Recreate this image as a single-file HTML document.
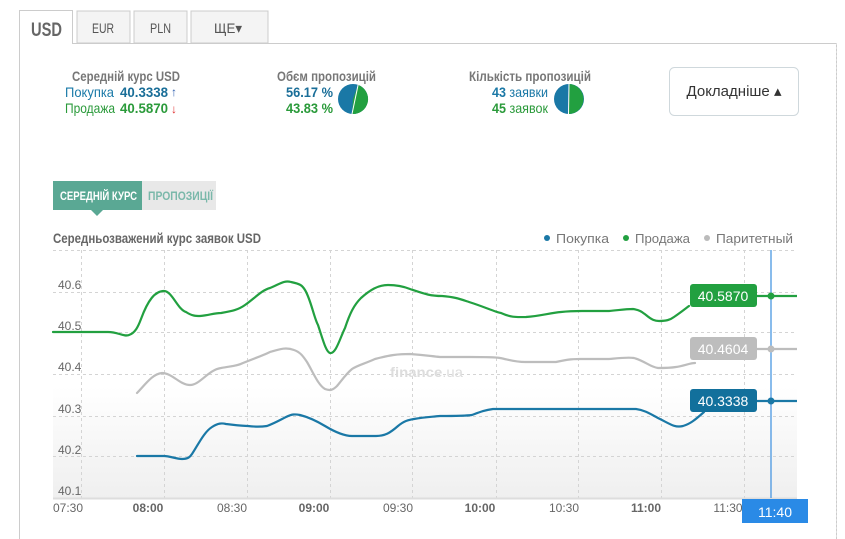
<!DOCTYPE html>
<html><head><meta charset="utf-8"><style>
html,body{margin:0;padding:0;background:#fff;}
body{width:845px;height:539px;overflow:hidden;position:relative;font-family:"Liberation Sans",sans-serif;}
svg{position:absolute;left:0;top:0;}
</style></head><body>
<svg width="845" height="539" viewBox="0 0 845 539" xmlns="http://www.w3.org/2000/svg" font-family="Liberation Sans, sans-serif">
<defs>
<linearGradient id="bg" x1="0" y1="0" x2="0" y2="1">
<stop offset="0" stop-color="#fff"/><stop offset="0.55" stop-color="#fff"/><stop offset="1" stop-color="#efefef"/>
</linearGradient>
</defs>
<rect x="77" y="11" width="53" height="32" fill="#f4f4f4" stroke="#ccc"/>
<rect x="134" y="11" width="53" height="32" fill="#f4f4f4" stroke="#ccc"/>
<rect x="191" y="11" width="77" height="32" fill="#f4f4f4" stroke="#ccc"/>
<path d="M19.5 539 V10.5 H72.5 V43.5 H836.5 V539" fill="none" stroke="#ccc"/>
<rect x="20" y="11" width="52" height="34" fill="#fff"/>
<line x1="836.5" y1="43" x2="836.5" y2="539" stroke="#ddd" stroke-dasharray="2,2"/>
<g lengthAdjust="spacingAndGlyphs">
<text x="31" y="36" font-size="19" font-weight="bold" fill="#666" textLength="31" lengthAdjust="spacingAndGlyphs">USD</text>
<text x="92" y="33" font-size="14" fill="#555" textLength="22" lengthAdjust="spacingAndGlyphs">EUR</text>
<text x="150" y="33" font-size="14" fill="#555" textLength="21" lengthAdjust="spacingAndGlyphs">PLN</text>
<text x="214" y="33" font-size="14" fill="#555" textLength="28" lengthAdjust="spacingAndGlyphs">ЩЕ▾</text>

<text x="72" y="81" font-size="14" font-weight="bold" fill="#777" textLength="108" lengthAdjust="spacingAndGlyphs">Середній курс USD</text>
<text x="65" y="97" font-size="14" fill="#1a7aa8" textLength="49" lengthAdjust="spacingAndGlyphs">Покупка</text>
<text x="120" y="97" font-size="14" font-weight="bold" fill="#1a6e98" textLength="48" lengthAdjust="spacingAndGlyphs">40.3338</text>
<text x="171" y="96" font-size="12" fill="#3060b0">↑</text>
<text x="65" y="113" font-size="14" fill="#2a9a3a" textLength="50" lengthAdjust="spacingAndGlyphs">Продажа</text>
<text x="120" y="113" font-size="14" font-weight="bold" fill="#2a9a3a" textLength="48" lengthAdjust="spacingAndGlyphs">40.5870</text>
<text x="171" y="113" font-size="12" fill="#e03030">↓</text>

<text x="277" y="81" font-size="14" font-weight="bold" fill="#777" textLength="99" lengthAdjust="spacingAndGlyphs">Обєм пропозицій</text>
<text x="286" y="97" font-size="14" font-weight="bold" fill="#1a6e98" textLength="47" lengthAdjust="spacingAndGlyphs">56.17 %</text>
<text x="286" y="113" font-size="14" font-weight="bold" fill="#2a9a3a" textLength="47" lengthAdjust="spacingAndGlyphs">43.83 %</text>
</g>
<circle cx="353" cy="99" r="15" fill="#1a78a6"/>
<path d="M353 99 L358.1 84.9 A15 15 0 0 1 352 114 Z" fill="#22a040"/>
<path d="M358.1 84.9 L352 114" stroke="#fff" stroke-width="1"/>

<text x="469" y="81" font-size="14" font-weight="bold" fill="#777" textLength="122" lengthAdjust="spacingAndGlyphs">Кількість пропозицій</text>
<text x="492" y="97" font-size="14" fill="#1a78a6" textLength="56" lengthAdjust="spacingAndGlyphs"><tspan font-weight="bold">43</tspan> заявки</text>
<text x="492" y="113" font-size="14" fill="#2a9a3a" textLength="56" lengthAdjust="spacingAndGlyphs"><tspan font-weight="bold">45</tspan> заявок</text>
<circle cx="569" cy="99" r="15" fill="#1a78a6"/>
<path d="M569 99 L569 84 A15 15 0 0 1 568 114 Z" fill="#22a040"/>
<line x1="569" y1="84" x2="568.5" y2="114" stroke="#fff" stroke-width="1"/>

<rect x="669.5" y="67.5" width="129" height="48" rx="5" fill="#fff" stroke="#cfd8dc"/>
<text x="734" y="96" font-size="15" fill="#333" text-anchor="middle">Докладніше ▴</text>

<rect x="53" y="181" width="89" height="29" fill="#5aa894"/>
<path d="M91 210 L97 216 L103 210 Z" fill="#5aa894"/>
<rect x="142" y="181" width="74" height="29" fill="#e8e8e8"/>
<text x="60" y="200" font-size="12" font-weight="bold" fill="#fff" textLength="77" lengthAdjust="spacingAndGlyphs">СЕРЕДНІЙ КУРС</text>
<text x="148" y="200" font-size="12" font-weight="bold" fill="#7ab8aa" textLength="65" lengthAdjust="spacingAndGlyphs">ПРОПОЗИЦІЇ</text>

<text x="53" y="243" font-size="14" font-weight="bold" fill="#666" textLength="208" lengthAdjust="spacingAndGlyphs">Середньозважений курс заявок USD</text>
<circle cx="547" cy="238" r="3" fill="#1a78a6"/><text x="556" y="243" font-size="13" fill="#777" textLength="53" lengthAdjust="spacingAndGlyphs">Покупка</text>
<circle cx="626" cy="238" r="3" fill="#22a040"/><text x="635" y="243" font-size="13" fill="#777" textLength="55" lengthAdjust="spacingAndGlyphs">Продажа</text>
<circle cx="707" cy="238" r="3" fill="#bbb"/><text x="716" y="243" font-size="13" fill="#777" textLength="77" lengthAdjust="spacingAndGlyphs">Паритетный</text>

<rect x="53" y="250" width="744" height="248" fill="url(#bg)"/>
<g stroke="#d4d4d4" stroke-dasharray="3,3" stroke-width="1">
<line x1="53" y1="250.5" x2="797" y2="250.5"/>
<line x1="53" y1="292.5" x2="797" y2="292.5"/>
<line x1="53" y1="332.5" x2="797" y2="332.5"/>
<line x1="53" y1="374.5" x2="797" y2="374.5"/>
<line x1="53" y1="416.5" x2="797" y2="416.5"/>
<line x1="53" y1="456.5" x2="797" y2="456.5"/>
<line x1="81.5" y1="250" x2="81.5" y2="498"/>
<line x1="164.5" y1="250" x2="164.5" y2="498"/>
<line x1="247.5" y1="250" x2="247.5" y2="498"/>
<line x1="330.5" y1="250" x2="330.5" y2="498"/>
<line x1="412.5" y1="250" x2="412.5" y2="498"/>
<line x1="496.5" y1="250" x2="496.5" y2="498"/>
<line x1="578.5" y1="250" x2="578.5" y2="498"/>
<line x1="661.5" y1="250" x2="661.5" y2="498"/>
<line x1="744.5" y1="250" x2="744.5" y2="498"/>
</g>
<line x1="53" y1="498.5" x2="797" y2="498.5" stroke="#ddd" stroke-width="2"/>
<g font-size="12" fill="#666">
<text x="58" y="289">40.6</text><text x="58" y="330">40.5</text><text x="58" y="371">40.4</text>
<text x="58" y="413">40.3</text><text x="58" y="454">40.2</text><text x="58" y="495">40.1</text>
</g>
<g font-size="12" fill="#666" text-anchor="middle">
<text x="68" y="512">07:30</text><text x="148" y="512" font-weight="bold">08:00</text>
<text x="232" y="512">08:30</text><text x="314" y="512" font-weight="bold">09:00</text>
<text x="398" y="512">09:30</text><text x="480" y="512" font-weight="bold">10:00</text>
<text x="564" y="512">10:30</text><text x="646" y="512" font-weight="bold">11:00</text>
<text x="728" y="512">11:30</text>
</g>
<text x="390" y="377" font-size="14" font-weight="bold" fill="#ddd" textLength="73" lengthAdjust="spacingAndGlyphs">finance<tspan font-weight="normal">.ua</tspan></text>

<g fill="none" stroke-width="2.2" stroke-linejoin="round" stroke-linecap="round">
<path stroke="#22a040" d="M53 332 L108 332 C118 332 124 337 129 335 C135 333 138 327 141 319 C148 300 155 291 164 291 C172 291 178 310 186 312 C192 316 196 316 200 316 C210 315 214 313 221 313 C232 311 238 310 245 305 C255 298 262 290 270 288 C280 284 284 280 291 282 C300 284 302 285 305 290 C311 300 314 318 318 325 C323 340 326 352 330 353 C336 354 340 338 345 328 C350 313 354 305 361 298 C370 290 378 285 388 285 C398 285 405 287 410 289 C425 294 430 296 442 296 C455 297 460 299 469 302 C485 307 495 312 501 313 C512 318 518 317 526 317 C540 316 550 313 561 312 C570 311 575 311 582 311 C595 311 600 311 609 311 C620 310 625 309 633 309 C640 310 642 312 646 315 C652 320 655 321 659 321 C666 321 670 320 674 317 C680 313 685 309 689 306"/>
<path stroke="#bdbdbd" d="M137 393 C145 385 152 374 162 373 C172 373 180 385 190 385 C200 385 208 370 221 368 C232 366 237 366 243 363 C255 358 262 356 270 352 C280 349 286 347 294 350 C300 352 303 356 307 362 C313 372 318 385 325 389 C330 391 333 390 337 386 C342 380 346 374 352 369 C358 365 364 364 375 359 C390 355 398 354 410 354 C425 355 430 356 440 357 C455 357 460 357 470 357 C485 357 495 357 500 358 C510 360 515 362 525 362 C540 362 548 362 556 362 C565 360 570 359 580 359 C595 359 600 359 609 359 C620 358 628 357 634 358 C645 361 650 367 658 368 C665 368 670 368 676 367 C684 366 690 363 695 363"/>
<path stroke="#1a78a6" d="M137 456 L164 456 C170 456 176 459 182 459 C188 459 190 457 192 454 C198 445 204 432 212 427 C218 423 222 423 226 424 C235 425 242 426 248 426 C256 427 260 427 267 426 C275 423 280 420 286 417 C292 414 295 414 300 415 C308 417 315 420 325 426 C335 432 345 436 352 436 C360 436 365 436 376 436 C385 436 390 433 398 426 C404 421 408 420 414 419 C425 417 430 417 440 416 C455 416 465 416 472 415 C480 412 485 410 493 409 L636 409 C645 410 652 415 660 419 C670 424 675 428 683 426 C690 424 695 420 704 412"/>
</g>
<line x1="771" y1="250" x2="771" y2="498" stroke="#3b8fe0" stroke-width="1.2"/>
<g stroke-width="2.2">
<line x1="757" y1="296" x2="797" y2="296" stroke="#22a040"/>
<line x1="757" y1="349" x2="797" y2="349" stroke="#bdbdbd"/>
<line x1="757" y1="401" x2="797" y2="401" stroke="#1a78a6"/>
</g>
<circle cx="771" cy="296" r="3.5" fill="#22a040"/>
<circle cx="771" cy="349" r="3.5" fill="#bdbdbd"/>
<circle cx="771" cy="401" r="3.5" fill="#1a78a6"/>
<rect x="690" y="284" width="67" height="23" rx="3" fill="#22a040"/>
<rect x="690" y="337" width="67" height="23" rx="3" fill="#bdbdbd"/>
<rect x="690" y="389" width="67" height="23" rx="3" fill="#12709c"/>
<g font-size="14" fill="#fff" text-anchor="middle">
<text x="723" y="301">40.5870</text><text x="723" y="354">40.4604</text><text x="723" y="406">40.3338</text>
</g>
<rect x="742" y="499" width="66" height="24" fill="#2a8ae6"/>
<text x="775" y="517" font-size="14" fill="#fff" text-anchor="middle">11:40</text>
</svg>
</body></html>
